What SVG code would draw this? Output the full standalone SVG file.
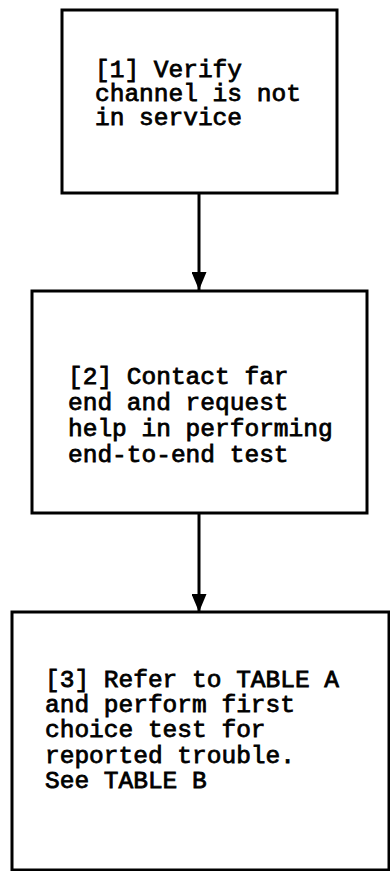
<svg xmlns="http://www.w3.org/2000/svg" width="390" height="871" viewBox="0 0 390 871">
  <style>
    .box { fill: #ffffff; stroke: #000000; stroke-width: 3; }
    .label { font-family: "Liberation Mono", "Courier New", monospace; font-size: 24.5px; font-weight: normal; fill: #000000; stroke: #000000; stroke-width: 0.8; }
    .link { stroke: #000000; stroke-width: 3; fill: none; }
  </style>
  <defs>
    <marker id="arrow" viewBox="0 0 18 15" refX="18" refY="7.5" markerWidth="18" markerHeight="15" markerUnits="userSpaceOnUse" orient="auto">
      <path d="M0,0 L18,7.5 L0,15 Z" fill="#000000"/>
    </marker>
  </defs>
  <rect width="390" height="871" fill="#ffffff"/>

  <g id="connectors">
    <line class="link" x1="199" y1="194" x2="199" y2="290" marker-end="url(#arrow)"/>
    <line class="link" x1="199" y1="513" x2="199" y2="612" marker-end="url(#arrow)"/>
  </g>

  <g id="step1">
    <rect class="box" x="62" y="10" width="275" height="183"/>
    <text class="label" x="95" y="77">[1] Verify</text>
    <text class="label" x="95" y="101">channel is not</text>
    <text class="label" x="95" y="125">in service</text>
  </g>

  <g id="step2">
    <rect class="box" x="32" y="291" width="335" height="222"/>
    <text class="label" x="68" y="384">[2] Contact far</text>
    <text class="label" x="68" y="410">end and request</text>
    <text class="label" x="68" y="436">help in performing</text>
    <text class="label" x="68" y="462">end-to-end test</text>
  </g>

  <g id="step3">
    <rect class="box" x="12" y="612" width="377" height="258"/>
    <text class="label" x="45" y="687">[3] Refer to TABLE A</text>
    <text class="label" x="45" y="712">and perform first</text>
    <text class="label" x="45" y="737">choice test for</text>
    <text class="label" x="45" y="763">reported trouble.</text>
    <text class="label" x="45" y="788">See TABLE B</text>
  </g>
</svg>
